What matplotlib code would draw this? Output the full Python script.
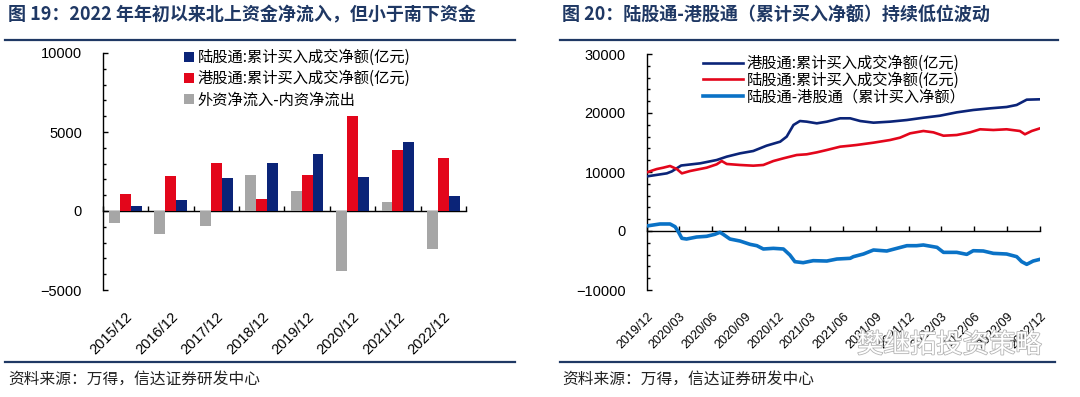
import numpy as np
import pandas as pd
import matplotlib
matplotlib.use("Agg")
import matplotlib.pyplot as plt
import matplotlib.dates as mdates
from matplotlib.lines import Line2D
from matplotlib.ticker import MultipleLocator, FixedLocator, NullFormatter
import matplotlib.patheffects as pe

plt.rcParams['font.family'] = ['Liberation Sans', 'Noto Sans CJK SC']
CJK = ['Noto Sans CJK SC', 'DejaVu Sans']

# ---------------- data: left chart ----------------
years = ['2015/12', '2016/12', '2017/12', '2018/12', '2019/12', '2020/12', '2021/12', '2022/12']
north_net = [290, 690, 2080, 3020, 3580, 2170, 4375, 920]        # 陆股通 累计买入成交净额
south_net = [1100, 2190, 3020, 770, 2290, 6020, 3850, 3350]      # 港股通 累计买入成交净额
foreign_minus_domestic = [-790, -1460, -920, 2270, 1290, -3810, 540, -2400]

# ---------------- data: right chart ----------------
hk_dates = ['2019-12-31', '2020-02-25', '2020-03-10', '2020-04-05', '2020-05-28', '2020-07-13',
            '2020-08-10', '2020-09-16', '2020-10-23', '2020-11-29', '2021-01-06', '2021-01-24',
            '2021-02-12', '2021-03-02', '2021-03-21', '2021-04-18', '2021-05-16', '2021-06-22',
            '2021-07-20', '2021-08-17', '2021-09-23', '2021-11-08', '2021-12-25', '2022-02-09',
            '2022-03-27', '2022-05-13', '2022-06-28', '2022-08-14', '2022-09-29', '2022-10-27',
            '2022-11-24', '2022-12-31']
hk_values = [9250, 9770, 10100, 11100, 11470, 12030,
             12600, 13160, 13560, 14460, 15140, 15990,
             17970, 18640, 18530, 18250, 18530, 19100,
             19100, 18640, 18360, 18530, 18810, 19200,
             19540, 20110, 20510, 20790, 21020, 21360,
             22260, 22320]

lu_dates = ['2019-12-31', '2020-01-28', '2020-02-15', '2020-03-05', '2020-03-24', '2020-04-07',
            '2020-04-30', '2020-06-15', '2020-07-13', '2020-07-27', '2020-08-10', '2020-09-16',
            '2020-10-23', '2020-11-20', '2020-12-18', '2021-01-15', '2021-02-21', '2021-03-21',
            '2021-04-18', '2021-05-16', '2021-06-22', '2021-07-20', '2021-08-07', '2021-09-23',
            '2021-11-08', '2021-12-06', '2022-01-03', '2022-02-09', '2022-03-09', '2022-04-06',
            '2022-05-13', '2022-06-19', '2022-07-17', '2022-08-23', '2022-09-29', '2022-11-05',
            '2022-11-19', '2022-12-08', '2022-12-31']
lu_values = [9940, 10500, 10730, 11020, 10500, 9770,
             10170, 10730, 11300, 11860, 11360, 11190,
             11070, 11190, 11860, 12320, 12880, 13000,
             13330, 13730, 14290, 14460, 14580, 14970,
             15420, 15820, 16550, 16950, 16720, 16150,
             16270, 16720, 17240, 17120, 17240, 16950,
             16390, 16950, 17400]

diff_dates = ['2019-12-31', '2020-02-06', '2020-03-05', '2020-03-19', '2020-03-28', '2020-04-07',
              '2020-04-20', '2020-05-18', '2020-06-15', '2020-07-08', '2020-07-22', '2020-07-31',
              '2020-08-19', '2020-09-16', '2020-10-14', '2020-11-02', '2020-11-20', '2020-12-18',
              '2021-01-15', '2021-02-02', '2021-02-16', '2021-03-11', '2021-04-08', '2021-05-16',
              '2021-06-13', '2021-07-20', '2021-07-29', '2021-08-26', '2021-09-23', '2021-10-30',
              '2021-11-27', '2021-12-25', '2022-01-21', '2022-02-09', '2022-03-19', '2022-04-06',
              '2022-05-13', '2022-06-10', '2022-06-28', '2022-07-26', '2022-08-23', '2022-09-29',
              '2022-10-27', '2022-11-10', '2022-11-24', '2022-12-12', '2022-12-31']
diff_values = [850, 1190, 1190, 730, -110, -1240,
               -1360, -1020, -900, -560, -220, -560,
               -1360, -1700, -2260, -2490, -3050, -2940,
               -3050, -4070, -5200, -5370, -5030, -5090,
               -4750, -4630, -4350, -3900, -3220, -3390,
               -2940, -2490, -2490, -2370, -2770, -3620,
               -3620, -3960, -3340, -3390, -3790, -3900,
               -4350, -5200, -5650, -5090, -4800]

quarter_ticks = ['2019-12-31', '2020-03-31', '2020-06-30', '2020-09-30', '2020-12-31',
                 '2021-03-31', '2021-06-30', '2021-09-30', '2021-12-31', '2022-03-31',
                 '2022-06-30', '2022-09-30', '2022-12-31']
quarter_labels = ['2019/12', '2020/03', '2020/06', '2020/09', '2020/12', '2021/03', '2021/06',
                  '2021/09', '2021/12', '2022/03', '2022/06', '2022/09', '2022/12']

# ---------------- styles ----------------
NAVY = '#0B2478'
RED = '#E3061B'
GRAY = '#A6A6A6'
LBLUE = '#0A72C6'
TITLE_C = '#1F3864'

W, H = 1080, 397
fig = plt.figure(figsize=(W / 100, H / 100), dpi=100)

def fx(p):
    return p / W

def fy(p):
    return 1 - p / H

# ================= left chart =================
axL = fig.add_axes([fx(102.7), fy(290), fx(466) - fx(102.7), fy(53) - fy(290)])
x = np.arange(len(years))
bw = 0.24
axL.bar(x - bw, foreign_minus_domestic, bw, color=GRAY, label='外资净流入-内资净流出', zorder=2)
axL.bar(x, south_net, bw, color=RED, label='港股通:累计买入成交净额(亿元)', zorder=2)
axL.bar(x + bw, north_net, bw, color=NAVY, label='陆股通:累计买入成交净额(亿元)', zorder=2)
axL.set_xlim(-0.5, len(years) - 0.5)
axL.set_ylim(-5000, 10000)
axL.yaxis.set_major_locator(FixedLocator([-5000, 0, 5000, 10000]))
axL.yaxis.set_minor_locator(MultipleLocator(1000))
for s in ['top', 'right', 'bottom']:
    axL.spines[s].set_visible(False)
axL.spines['left'].set_linewidth(1.0)
axL.tick_params(axis='y', which='major', direction='in', length=3.5, width=1, pad=15, labelsize=10.5)
axL.tick_params(axis='y', which='minor', direction='in', length=2.5, width=1)
axL.set_xticks(x)
axL.set_xticklabels(years, rotation=45, ha='right', rotation_mode='anchor', fontsize=10.5)
axL.tick_params(axis='x', length=0, pad=14)
secL = axL.secondary_xaxis(1 / 3)
secL.set_xticks(np.arange(-0.5, len(years), 1.0))
secL.xaxis.set_major_formatter(NullFormatter())
secL.tick_params(axis='x', direction='in', length=3.5, width=1)
secL.spines['bottom'].set_linewidth(1.0)

handles, labels = axL.get_legend_handles_labels()
order = [2, 1, 0]
legL = axL.legend([handles[i] for i in order], [labels[i] for i in order],
                  loc='upper left', bbox_to_anchor=(fx(184), fy(49)), bbox_transform=fig.transFigure,
                  frameon=False, borderpad=0, borderaxespad=0, handlelength=0.65, handleheight=0.65,
                  handletextpad=0.25, labelspacing=0.28, prop={'family': CJK, 'size': 11})

# ================= right chart =================
axR = fig.add_axes([fx(646.7), fy(290), fx(1040) - fx(646.7), fy(54) - fy(290)])
axR.plot(pd.to_datetime(hk_dates), hk_values, color=NAVY, lw=1.9, label='港股通:累计买入成交净额(亿元)', zorder=3)
axR.plot(pd.to_datetime(lu_dates), lu_values, color=RED, lw=1.9, label='陆股通:累计买入成交净额(亿元)', zorder=3)
axR.plot(pd.to_datetime(diff_dates), diff_values, color=LBLUE, lw=2.6, label='陆股通-港股通（累计买入净额）', zorder=3)
qt = mdates.date2num(pd.to_datetime(quarter_ticks))
axR.set_xlim(qt[0], qt[-1])
axR.set_ylim(-10000, 30000)
axR.yaxis.set_major_locator(MultipleLocator(10000))
axR.yaxis.set_minor_locator(MultipleLocator(2000))
for s in ['top', 'right', 'bottom']:
    axR.spines[s].set_visible(False)
axR.spines['left'].set_linewidth(1.0)
axR.tick_params(axis='y', which='major', direction='in', length=3.5, width=1, pad=15, labelsize=10.5)
axR.tick_params(axis='y', which='minor', direction='in', length=2.5, width=1)
axR.xaxis.set_major_locator(FixedLocator(qt))
axR.set_xticklabels(quarter_labels, rotation=45, ha='right', rotation_mode='anchor', fontsize=9)
axR.tick_params(axis='x', length=0, pad=15)
secR = axR.secondary_xaxis(0.25)
secR.xaxis.set_major_locator(FixedLocator(qt))
secR.xaxis.set_major_formatter(NullFormatter())
secR.tick_params(axis='x', direction='in', length=3.5, width=1)
secR.spines['bottom'].set_linewidth(1.0)

legR = axR.legend(loc='upper left', bbox_to_anchor=(fx(703), fy(55)), bbox_transform=fig.transFigure,
                  frameon=False, borderpad=0, borderaxespad=0, handlelength=2.6,
                  handletextpad=0.25, labelspacing=-0.03, prop={'family': CJK, 'size': 11})

# ================= titles, rules, sources =================
fig.text(fx(8), fy(15), '图 19：2022 年年初以来北上资金净流入，但小于南下资金', family=CJK,
         fontsize=13, fontweight='bold', color=TITLE_C, va='center', ha='left')
fig.text(fx(562), fy(15), '图 20：陆股通-港股通（累计买入净额）持续低位波动', family=CJK,
         fontsize=13, fontweight='bold', color=TITLE_C, va='center', ha='left')
for (x0, x1) in [(5, 515), (560, 1058)]:
    fig.add_artist(Line2D([fx(x0), fx(x1)], [fy(40), fy(40)], transform=fig.transFigure,
                          color=TITLE_C, lw=1.6))
for (x0, x1) in [(5, 515), (560, 1055)]:
    fig.add_artist(Line2D([fx(x0), fx(x1)], [fy(362), fy(362)], transform=fig.transFigure,
                          color=TITLE_C, lw=1.6))
fig.text(fx(8), fy(379), '资料来源：万得，信达证券研发中心', family=CJK, fontsize=11.3,
         color='#222222', va='center', ha='left', style='italic')
fig.text(fx(562), fy(379), '资料来源：万得，信达证券研发中心', family=CJK, fontsize=11.3,
         color='#222222', va='center', ha='left', style='italic')

# watermark
wm = fig.text(fx(857), fy(345), '樊继拓投资策略', family=CJK, fontsize=19, color='white',
              va='center', ha='left', zorder=10)
wm.set_path_effects([pe.Stroke(linewidth=1.2, foreground='#B5B5B5'), pe.Normal()])

fig.savefig('out.png', dpi=100)
